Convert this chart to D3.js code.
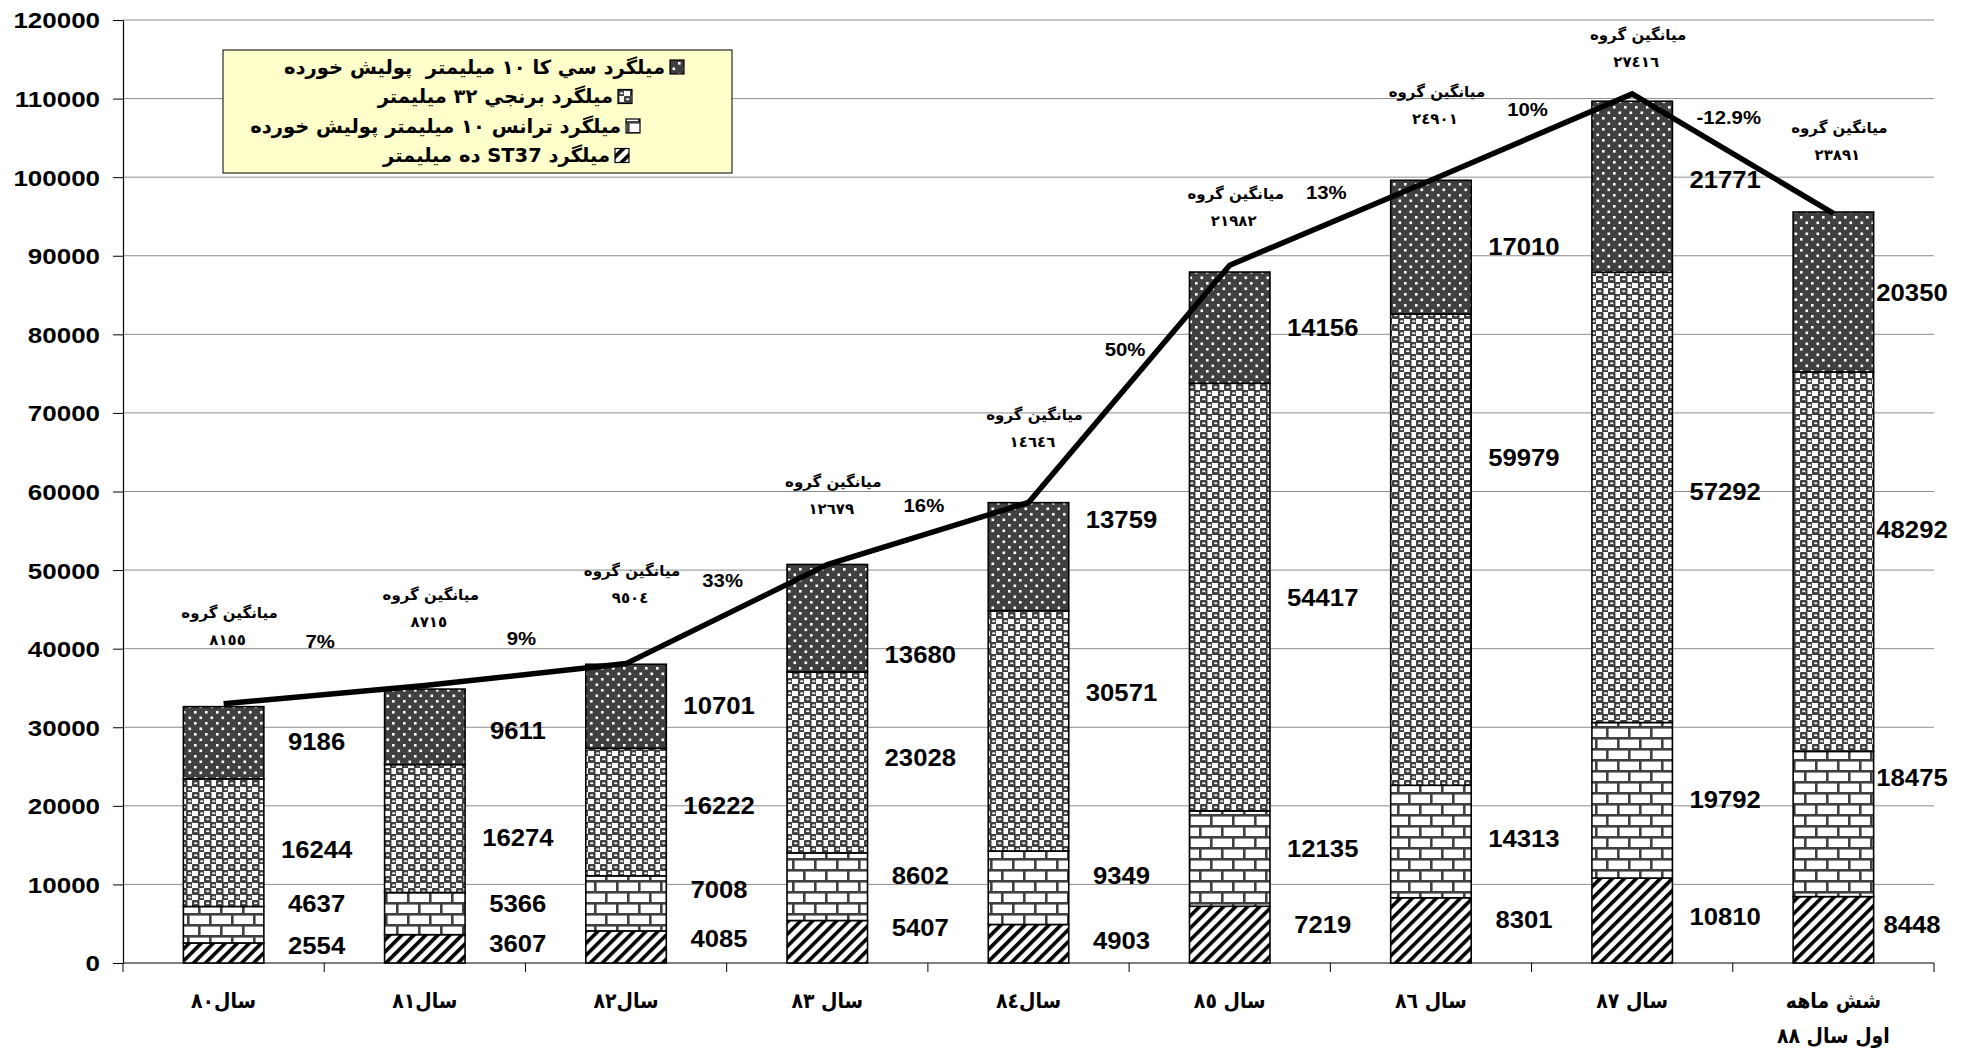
<!DOCTYPE html>
<html><head><meta charset="utf-8">
<script src="https://cdn.jsdelivr.net/npm/d3@7"></script>
<style>
html,body{margin:0;padding:0;background:#fff;}
svg{display:block;}
.num{font-family:"Liberation Sans",Arial,sans-serif;font-weight:bold;fill:#000;}
.ar{font-family:"DejaVu Sans",sans-serif;font-weight:bold;fill:#000;}
.arc{font-family:"DejaVu Sans Condensed","DejaVu Sans",sans-serif;font-weight:bold;fill:#000;}
</style></head>
<body>
<svg id="chart" width="1969" height="1049"></svg>
<script>
// ---------- data ----------
const categories = ["سال٨٠","سال٨١","سال٨٢","سال ٨٣","سال٨٤","سال ٨٥","سال ٨٦","سال ٨٧","شش ماهه\nاول سال ٨٨"];
const seriesNames = [
  "میلگرد ST37 ده میلیمتر",
  "میلگرد ترانس ١٠ میلیمتر پولیش خورده",
  "میلگرد برنجي ٣٢ میلیمتر",
  "میلگرد سي کا ١٠ میلیمتر  پولیش خورده"
];
const st37   = [2554,3607,4085,5407,4903,7219,8301,10810,8448];
const trans  = [4637,5366,7008,8602,9349,12135,14313,19792,18475];
const brenji = [16244,16274,16222,23028,30571,54417,59979,57292,48292];
const sika   = [9186,9611,10701,13680,13759,14156,17010,21771,20350];
const totalLine = [33000,35300,38100,50700,58600,88800,99600,110600,95400];
const avgTitle = "میانگین گروه";
const avgValues = ["٨١٥٥","٨٧١٥","٩٥٠٤","١٢٦٧٩","١٤٦٤٦","٢١٩٨٢","٢٤٩٠١","٢٧٤١٦","٢٣٨٩١"];
const growthLabels = ["7%","9%","33%","16%","50%","13%","10%","-12.9%"];
const yTicks = [0,10000,20000,30000,40000,50000,60000,70000,80000,90000,100000,110000,120000];

// label anchors (value units, where each hand-placed label sits)
const labelAtSt37  = [2163,2418,3054,4454,2800,4836,5472,5854,4836];
const labelAtTrans = [7508,7508,9289,11071,11071,14507,15779,20742,23541];
const labelAtBr    = [14379,15906,19978,26086,34358,46446,64261,59935,55099];
const labelAtSika  = [28122,29522,32703,39193,56372,80804,91111,99637,85258];
const avgAt    = [41102,43392,46446,57772,66297,94420,107399,114652,102818];
const growthAt = [40847,41229,48610,58153,78004,97982,108543,107525];

// ---------- layout ----------
const svg = d3.select("#chart");
const PL = 123, PR = 1934, PT = 20, PB = 963;
const x = d3.scaleBand().domain(categories).range([PL,PR]).paddingInner(0.6).paddingOuter(0.3);
const step = x.step();
const y = d3.scaleLinear().domain([0,120000]).range([PB,PT]);
const cx = c => x(c) + x.bandwidth()/2;

// ---------- patterns ----------
const defs = svg.append("defs");
const DK = "#404040";
let p = defs.append("pattern").attr("id","pSika").attr("patternUnits","userSpaceOnUse").attr("width",11).attr("height",11);
p.append("rect").attr("width",11).attr("height",11).attr("fill",DK);
p.append("rect").attr("x",1.5).attr("y",1.5).attr("width",2.6).attr("height",2.6).attr("fill","#fff");
p.append("rect").attr("x",7).attr("y",7).attr("width",2.6).attr("height",2.6).attr("fill","#fff");
p = defs.append("pattern").attr("id","pBr").attr("patternUnits","userSpaceOnUse").attr("width",12).attr("height",12);
p.append("rect").attr("width",12).attr("height",12).attr("fill","#fff");
p.append("rect").attr("x",0).attr("y",0).attr("width",7.5).attr("height",7).attr("rx",1).attr("fill",DK);
p.append("rect").attr("x",6).attr("y",6).attr("width",7.5).attr("height",7).attr("rx",1).attr("fill",DK);
p.append("rect").attr("x",-1.5).attr("y",6).attr("width",1.5).attr("height",7).attr("fill",DK);
p.append("rect").attr("x",6).attr("y",-1).attr("width",7.5).attr("height",1).attr("fill",DK);
p.append("rect").attr("x",2.2).attr("y",2.4).attr("width",3).attr("height",1.7).attr("fill","#fff");
p.append("rect").attr("x",8.2).attr("y",8.4).attr("width",3).attr("height",1.7).attr("fill","#fff");
p = defs.append("pattern").attr("id","pTr").attr("patternUnits","userSpaceOnUse").attr("width",22).attr("height",22);
p.append("rect").attr("width",22).attr("height",22).attr("fill","#fff");
p.append("rect").attr("x",0).attr("y",0).attr("width",22).attr("height",2.6).attr("fill",DK);
p.append("rect").attr("x",0).attr("y",11).attr("width",22).attr("height",2.6).attr("fill",DK);
p.append("rect").attr("x",0).attr("y",0).attr("width",2.6).attr("height",11).attr("fill",DK);
p.append("rect").attr("x",11).attr("y",11).attr("width",2.6).attr("height",11).attr("fill",DK);
p = defs.append("pattern").attr("id","pSt").attr("patternUnits","userSpaceOnUse").attr("width",8.5).attr("height",8.5).attr("patternTransform","rotate(45)");
p.append("rect").attr("width",8.5).attr("height",8.5).attr("fill","#fff");
p.append("rect").attr("x",0).attr("width",3.6).attr("height",8.5).attr("fill","#000");

const fills = ["url(#pSt)","url(#pTr)","url(#pBr)","url(#pSika)"];
const seriesVals = [st37,trans,brenji,sika];
const labelAt = [labelAtSt37,labelAtTrans,labelAtBr,labelAtSika];

// ---------- gridlines & axes ----------
svg.append("g").selectAll("line").data(yTicks.filter(d=>d>0)).join("line")
  .attr("x1",PL).attr("x2",PR).attr("y1",d=>y(d)).attr("y2",d=>y(d))
  .attr("stroke","#8c8c8c").attr("stroke-width",1);

const yAxis = svg.append("g").attr("transform",`translate(${PL},0)`)
  .call(d3.axisLeft(y).tickValues(yTicks).tickSize(10).tickSizeOuter(0).tickFormat(d3.format("d")));
yAxis.select(".domain").attr("stroke","#000").attr("stroke-width",1.2);
yAxis.selectAll(".tick line").attr("stroke","#000");
yAxis.selectAll(".tick text").attr("class","num").attr("font-size",22)
  .attr("transform","scale(1.18,1)").attr("x",-23/1.18).attr("dy","0.36em");

// x axis
svg.append("line").attr("x1",PL).attr("x2",PR).attr("y1",PB).attr("y2",PB).attr("stroke","#000").attr("stroke-width",1.2);
svg.append("g").selectAll("line").data(d3.range(categories.length+1)).join("line")
  .attr("x1",i=>PL+i*step).attr("x2",i=>PL+i*step).attr("y1",PB).attr("y2",PB+9)
  .attr("stroke","#000");
const xl = svg.append("g").selectAll("text").data(categories).join("text")
  .attr("class","arc").attr("font-size",21).attr("text-anchor","middle").attr("direction","rtl")
  .attr("x",d=>cx(d)).attr("y",1008);
xl.each(function(d){
  const lines = d.split("\n");
  const t = d3.select(this);
  lines.forEach((ln,i)=>t.append("tspan").attr("x",cx(d)).attr("dy",i===0?0:35).text(ln));
});

// ---------- stacked bars ----------
const gBars = svg.append("g");
categories.forEach((c,i)=>{
  let base = 0;
  seriesVals.forEach((s,k)=>{
    const v = s[i];
    gBars.append("rect").attr("x",x(c)).attr("width",x.bandwidth())
      .attr("y",y(base+v)).attr("height",y(base)-y(base+v))
      .attr("fill",fills[k]).attr("stroke","#000").attr("stroke-width",1.6);
    base += v;
  });
});

// value labels
const gLab = svg.append("g");
categories.forEach((c,i)=>{
  const lx = Math.min(cx(c)+93, 1912);
  seriesVals.forEach((s,k)=>{
    gLab.append("text").attr("class","num").attr("font-size",24).attr("text-anchor","middle")
      .attr("dominant-baseline","central")
      .attr("transform",`translate(${lx},${y(labelAt[k][i])}) scale(1.07,1)`)
      .text(s[i]);
  });
});

// ---------- total line ----------
svg.append("path").datum(totalLine)
  .attr("d",d3.line().x((d,i)=>cx(categories[i])).y(d=>y(d)))
  .attr("fill","none").attr("stroke","#000").attr("stroke-width",5.5).attr("stroke-linejoin","miter");

// ---------- annotations ----------
const gAnn = svg.append("g");
categories.forEach((c,i)=>{
  const yy = y(avgAt[i]);
  gAnn.append("text").attr("class","ar").attr("font-size",15).attr("text-anchor","middle").attr("direction","rtl")
    .attr("x",cx(c)+6).attr("y",yy-22).text(avgTitle);
  gAnn.append("text").attr("class","ar").attr("font-size",15).attr("text-anchor","middle")
    .attr("letter-spacing",8).attr("x",cx(c)+4).attr("y",yy+5).text(avgValues[i]);
});
growthLabels.forEach((g,i)=>{
  gAnn.append("text").attr("class","num").attr("font-size",18).attr("text-anchor","middle")
    .attr("dominant-baseline","central")
    .attr("transform",`translate(${cx(categories[i])+0.48*step},${y(growthAt[i])}) scale(1.13,1)`)
    .text(g);
});

// ---------- legend ----------
const lg = svg.append("g");
lg.append("rect").attr("x",223).attr("y",50).attr("width",509).attr("height",123)
  .attr("fill","#FFFFCC").attr("stroke","#000").attr("stroke-width",1);
const legendOrder = [3,2,1,0];
const legendSwatchX = [670,618,626,615];
legendOrder.forEach((k,r)=>{
  const ry = 67 + r*29.5;
  const sx = legendSwatchX[r];
  lg.append("rect").attr("x",sx).attr("y",ry-7).attr("width",14).attr("height",14)
    .attr("fill",fills[k]).attr("stroke","#000").attr("stroke-width",1.2);
  lg.append("text").attr("class","ar").attr("font-size",19.5).attr("direction","rtl")
    .attr("text-anchor","start").attr("dominant-baseline","central")
    .attr("xml:space","preserve")
    .attr("x",sx-5).attr("y",ry).text(seriesNames[k]);
});
</script>
</body></html>
